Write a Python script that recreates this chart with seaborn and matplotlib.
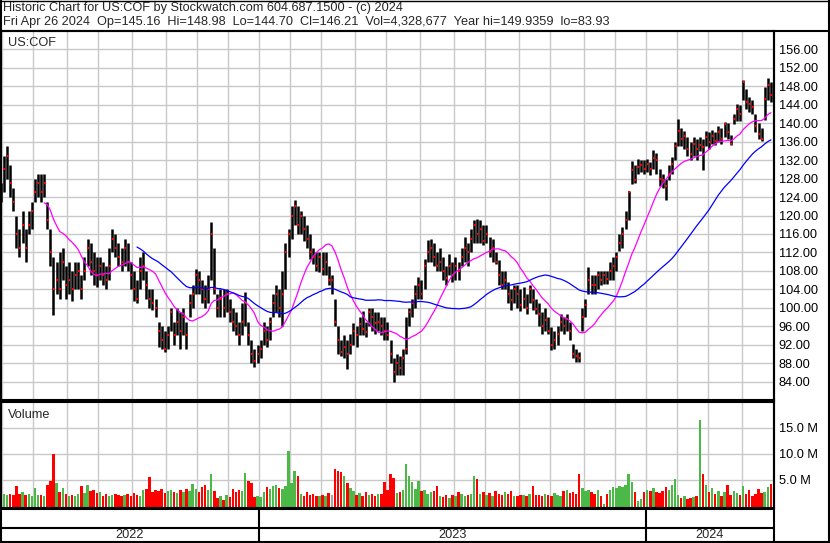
import numpy as np
import pandas as pd
import matplotlib
matplotlib.use('Agg')
import matplotlib.pyplot as plt
import matplotlib.transforms as mtrans
from matplotlib.lines import Line2D
import seaborn as sns
from pandas.tseries.holiday import USFederalHolidayCalendar
from pandas.tseries.offsets import CustomBusinessDay

# one bar = two trading days (US:COF)
close = [125, 130, 133, 127, 123, 116, 113, 118, 113, 118,
         121, 125, 127, 125, 127, 119, 112, 104, 106, 104,
         110, 105, 106, 104, 107, 108, 104, 108, 113, 110,
         108, 107, 109, 107, 106, 109, 115, 113, 111, 110,
         113, 110, 107, 104, 102, 108, 109, 105, 102, 101,
         100, 95, 93, 91, 94, 99, 94, 97, 95, 98,
         94, 101, 103, 107, 106, 104, 102, 104, 116, 104,
         100, 102, 100, 103, 99, 97, 96, 94, 97, 101,
         94, 90, 88.5, 90, 91, 95, 93, 97, 101, 103,
         100, 103, 112, 116, 120, 122, 118, 120, 117, 115,
         112, 111, 109, 111, 108.5, 110, 106, 106, 97, 93,
         90.5, 91.5, 90, 92, 95, 94, 96.5, 95.5, 94.7, 99,
         98, 96.6, 97, 96, 95, 94, 90, 86, 88, 87,
         89, 91, 99, 101, 103, 105, 103, 109, 112, 113,
         111, 109, 110, 108, 106.5, 109, 107, 109, 108, 111,
         113, 112, 115, 118, 116, 117, 114.5, 116, 112, 113,
         110, 107, 105, 106, 103, 101.6, 104, 103, 100.5, 102,
         100, 104, 101.6, 99.8, 98.7, 96, 97.3, 95, 92, 93,
         94.4, 97, 96, 97.6, 95, 90, 89.5, 89, 98, 100.5,
         106, 105, 104.9, 107, 106, 107, 106.3, 108, 109, 111,
         114, 116, 119, 125, 129.8, 127.6, 130.6, 131, 130, 131.2,
         130, 132.5, 132, 128, 127.6, 126.5, 129, 131.2, 135, 138.4,
         136.5, 137.3, 134.5, 133.4, 135.5, 134.5, 135.2, 134.8, 137, 136,
         137.3, 136.2, 138, 136.5, 139.9, 138, 135.5, 141, 143.1, 142,
         148.9, 144.6, 144.2, 143.5, 139.5, 137.7, 136.6, 145.3, 148.2, 146.21]

high = [127, 133, 135, 131, 126, 120, 117, 121, 117, 121,
        123, 128, 129, 129, 129, 123, 117, 111, 110, 112,
        113, 109, 110, 108, 110, 110, 107, 111, 115, 114,
        112, 111, 111, 110, 109, 113, 117, 116, 114, 113,
        115, 114, 110, 108, 106, 111, 112, 108, 104, 104,
        102, 97, 96, 95, 96, 100, 97, 100, 99, 100,
        97, 103, 105, 108.5, 108, 106, 105, 107, 118.6, 113,
        103, 104, 104, 104, 102, 100, 99, 97, 101, 103.5,
        97, 93, 91, 92, 93, 97, 96, 98, 103, 105,
        104, 108, 114, 117, 122, 123.3, 122, 121, 120, 118,
        116, 113, 112, 112, 112, 112, 109, 107, 102, 96,
        93, 94, 93, 94.4, 96.6, 96, 98, 99.4, 97, 100,
        100, 99, 99, 98, 98, 97, 93, 89, 90, 89.5,
        91, 98, 100, 102, 105, 106.7, 106, 110.5, 114.6, 115,
        114, 112, 113, 111, 109, 111.7, 110, 111, 110, 113,
        115.3, 114, 117, 119, 119.3, 119, 118, 118, 115.3, 115,
        112, 110.3, 108, 108, 105.6, 104, 105, 105, 104, 104.5,
        103, 105, 104, 102, 101, 99, 100, 98, 95.8, 95,
        96, 98.7, 98, 98.7, 97, 92.2, 91, 90.5, 100, 102,
        108.8, 107, 107, 108, 108, 108, 108, 110, 111, 112,
        116, 117.5, 121, 125.4, 131.9, 131, 132.3, 132, 132, 132.3,
        131.5, 134.1, 133.5, 130, 129, 128, 131, 132.6, 136, 141,
        139, 138.4, 137, 136, 137, 136.5, 137, 136.5, 138.4, 138,
        138.5, 138, 139.5, 139, 140.2, 140, 137.5, 142, 144.2, 144,
        149.3, 147.4, 145.6, 145, 142, 140, 139, 147.8, 149.9, 148.98]

low = [123, 125, 128, 124, 121, 113, 111, 114, 110, 116,
       117, 123, 124, 123, 124, 117, 109, 98.5, 103, 102,
       106, 102, 103, 101.5, 104, 104, 102, 106, 109, 107,
       105, 104.5, 106, 105, 104, 106, 112, 111, 109, 108,
       109, 108, 104, 101.5, 101, 104, 106, 102, 100, 99.5,
       98, 91.5, 91, 90.4, 91, 95, 92, 94, 91, 94,
       91, 98, 100, 103, 103, 101, 100, 101, 106, 103,
       98, 98, 98, 99, 97, 95, 94, 92, 94, 96,
       92, 88, 87.2, 88, 89, 92, 91.5, 93, 98, 99,
       98, 96, 104, 111, 115, 118, 116, 116, 114.5, 113,
       110.5, 109.5, 108, 107.7, 107, 107, 105, 103, 96, 90,
       89.5, 89, 86.8, 90, 92, 91.5, 94, 94, 93.7, 96,
       95, 94.4, 95, 94, 93, 93, 88, 84, 85.5, 85.5,
       85.5, 90, 96, 98, 100, 102, 102, 104, 110, 110,
       109, 108, 108, 106, 105, 107, 105.6, 106, 106, 109,
       110, 109, 112, 114, 114, 114, 113.5, 114, 111, 110,
       109.5, 105, 104, 104, 101, 99.5, 101, 100, 99.4, 100,
       98.7, 101, 99.5, 98.7, 96, 94.4, 95, 94.4, 90.8, 91,
       92, 95, 94.4, 95, 93, 89, 88.2, 88.2, 95, 98,
       103, 103, 103, 104, 105, 105.2, 105.2, 106, 106, 108,
       112.4, 113, 117, 119, 126.9, 127, 129, 129.5, 129, 129.5,
       128.7, 130, 129, 126.5, 126, 123.3, 127.6, 129, 132, 135,
       135, 134.5, 133, 132, 133, 132, 134, 129.8, 135, 134.5,
       135.5, 135.2, 136, 135.5, 137, 136.5, 135.2, 139.9, 140.5, 140.5,
       145, 143, 142.5, 142, 138, 136.5, 136.2, 140.6, 145, 144.7]

# volume in millions of shares
volume = [2.0, 2.3, 2.2, 2.4, 2.2, 3.8, 2.3, 2.6, 2.1, 2.4,
          2.0, 3.5, 2.1, 2.2, 2.0, 4.1, 4.8, 10.0, 4.5, 2.6,
          3.5, 2.4, 2.0, 2.2, 1.9, 2.3, 3.9, 2.5, 4.0, 2.8,
          3.0, 2.5, 2.7, 2.0, 2.3, 1.9, 2.1, 2.4, 2.2, 2.0,
          2.1, 2.3, 2.0, 2.5, 2.2, 1.9, 3.0, 3.2, 5.5, 2.6,
          3.0, 2.8, 3.2, 2.5, 2.8, 3.0, 2.7, 2.5, 3.0, 2.6,
          3.2, 2.8, 4.2, 3.3, 2.6, 3.6, 4.0, 3.1, 6.1, 2.8,
          1.5, 2.0, 1.2, 2.2, 1.8, 3.2, 2.6, 3.0, 2.8, 6.3,
          4.8, 4.4, 1.8, 2.0, 1.7, 2.6, 3.6, 3.2, 3.9, 4.0,
          3.4, 3.3, 3.8, 10.5, 4.5, 6.7, 5.7, 2.3, 2.0, 2.6,
          2.1, 2.4, 2.0, 1.9, 2.2, 2.0, 2.5, 2.1, 7.2, 6.8,
          6.5, 5.7, 4.4, 3.4, 2.8, 2.2, 2.5, 2.0, 2.6, 2.1,
          2.3, 2.0, 2.4, 2.3, 4.6, 3.0, 6.2, 5.4, 2.5, 2.7,
          3.0, 8.1, 5.7, 4.6, 3.2, 4.9, 2.8, 3.0, 2.3, 2.6,
          2.9, 3.9, 2.0, 1.8, 2.1, 1.5, 2.2, 1.9, 2.6, 2.4,
          2.0, 2.1, 2.3, 5.7, 5.1, 2.3, 2.7, 2.2, 2.5, 2.0,
          2.8, 2.4, 2.1, 2.6, 2.3, 2.8, 2.0, 1.9, 2.1, 2.2,
          2.0, 2.4, 3.8, 2.1, 2.2, 2.0, 2.4, 2.1, 1.9, 2.5,
          2.2, 2.0, 2.8, 3.1, 2.5, 2.6, 2.3, 6.2, 3.4, 2.8,
          3.0, 2.6, 2.4, 3.1, 2.0, 0.4, 2.4, 3.0, 3.6, 3.4,
          3.8, 3.6, 4.0, 6.2, 4.6, 2.7, 1.0, 1.4, 2.6, 3.0,
          2.8, 3.4, 2.6, 2.5, 2.9, 3.6, 3.0, 4.1, 5.1, 2.2,
          1.5, 2.0, 1.3, 1.6, 1.8, 1.9, 16.6, 6.2, 4.1, 2.7,
          3.4, 2.3, 2.8, 1.9, 2.6, 4.1, 2.2, 2.9, 2.5, 2.2,
          3.8, 2.4, 3.0, 2.0, 2.3, 3.2, 2.5, 2.7, 3.6, 4.3]

price_ticks = list(range(84, 157, 4))
vol_ticks = [5, 10, 15]
title1 = "Historic Chart for US:COF by Stockwatch.com 604.687.1500 - (c) 2024"
title2 = ("Fri Apr 26 2024  Op=145.16  Hi=148.98  Lo=144.70  Cl=146.21  "
          "Vol=4,328,677  Year hi=149.9359  lo=83.93")

sns.set_style('white')
plt.rcParams['font.family'] = ['Liberation Sans', 'DejaVu Sans']
FS = 9.2
GRID = '#c8c8c8'
W, H = 830, 543


def fx(px):
    return px / W


def fy(py):
    return 1 - py / H


n = len(close)
idx = np.arange(n)
days = pd.date_range(end='2024-04-26', periods=2 * n,
                     freq=CustomBusinessDay(calendar=USFederalHolidayCalendar()))
bar_dates = days[1::2]
mkey = bar_dates.year * 12 + bar_dates.month
month_edges = np.where(np.diff(mkey) != 0)[0] + 0.5
year_edges = np.where(np.diff(bar_dates.year) != 0)[0] + 0.5

fig = plt.figure(figsize=(W / 100, H / 100), dpi=100)
ax = fig.add_axes([0, fy(400), fx(774), (400 - 31) / H])
axv = fig.add_axes([0, fy(508), fx(774), (508 - 402) / H])
xlim = (-0.3, n)

# ---- price panel
ax.vlines(idx, low, high, color='black', lw=1.8, zorder=2)
sns.scatterplot(x=idx + 0.15, y=close, marker='s', s=3.5, color='red', linewidth=0, ax=ax, zorder=3)
ma = pd.DataFrame({'i': idx,
                   'fast': pd.Series(close).rolling(15).mean(),
                   'slow': pd.Series(close).rolling(45).mean()})
sns.lineplot(data=ma.dropna(subset=['fast']), x='i', y='fast', color='#ff00ff', lw=0.9, ax=ax, zorder=4)
sns.lineplot(data=ma.dropna(subset=['slow']), x='i', y='slow', color='#0000ff', lw=0.9, ax=ax, zorder=4)
ax.set_ylim(80, 160)
ax.set_yticks(price_ticks)
ax.set_yticklabels([f'{v:.2f}' for v in price_ticks])
ax.text(8, 0.967, 'US:COF', transform=mtrans.blended_transform_factory(
    mtrans.IdentityTransform(), ax.transAxes), fontsize=FS, va='center')

# ---- volume panel
chg = np.diff(np.r_[close[0] - 1, close])
vcol = np.where(chg > 0, '#4cb848', np.where(chg < 0, '#ff0000', '#a8a8a8'))
vbase = -0.385
axv.bar(idx, np.array(volume) - vbase, bottom=vbase, width=0.8, color=vcol, linewidth=0, zorder=2)
axv.set_ylim(vbase, 20)
axv.set_yticks(vol_ticks)
axv.set_yticklabels([f'{v:.1f} M' for v in vol_ticks])
axv.text(8, 0.88, 'Volume', transform=mtrans.blended_transform_factory(
    mtrans.IdentityTransform(), axv.transAxes), fontsize=FS, va='center')

for a in (ax, axv):
    a.set_xlim(*xlim)
    a.set_xticks(month_edges)
    a.set_xticklabels([])
    a.set_xlabel('')
    a.set_ylabel('')
    a.yaxis.tick_right()
    a.tick_params(length=0, pad=3.5, labelsize=FS, colors='black')
    a.grid(True, color=GRID, lw=1.0, zorder=0)
    a.set_axisbelow(True)
    for s in a.spines.values():
        s.set_color('black')
        s.set_linewidth(1.5)

# ---- frame, header and year strip
def fline(xs, ys, lw=1.5, tr=None):
    fig.add_artist(Line2D(xs, ys, color='black', lw=lw,
                          transform=tr if tr is not None else fig.transFigure))


fline([0, 1], [fy(0.5), fy(0.5)], lw=1)
fline([0, 1], [fy(30.5), fy(30.5)])
fline([fx(0.7), fx(0.7)], [0, 1])
fline([fx(828.5), fx(828.5)], [0, 1])
fline([fx(774), fx(774)], [0, fy(31)])
fline([0, fx(774)], [fy(509), fy(509)])
fline([0, fx(774)], [fy(527.5), fy(527.5)])
fline([0, 1], [fy(541.8), fy(541.8)])

fig.text(fx(3), fy(8.5), title1, fontsize=FS, va='center', ha='left')
fig.text(fx(3), fy(22.5), title2, fontsize=FS, va='center', ha='left')

strip = mtrans.blended_transform_factory(axv.transData, fig.transFigure)
for e in year_edges:
    fline([e, e], [fy(509), fy(542)], tr=strip)
bounds = np.r_[xlim[0], year_edges, xlim[1]]
for k in range(len(bounds) - 1):
    yr = bar_dates.year[int(np.ceil(bounds[k] + 0.01))]
    fig.text((bounds[k] + bounds[k + 1]) / 2, fy(535), str(yr), transform=strip,
             fontsize=FS, ha='center', va='center')

fig.savefig('out.png', dpi=100)
